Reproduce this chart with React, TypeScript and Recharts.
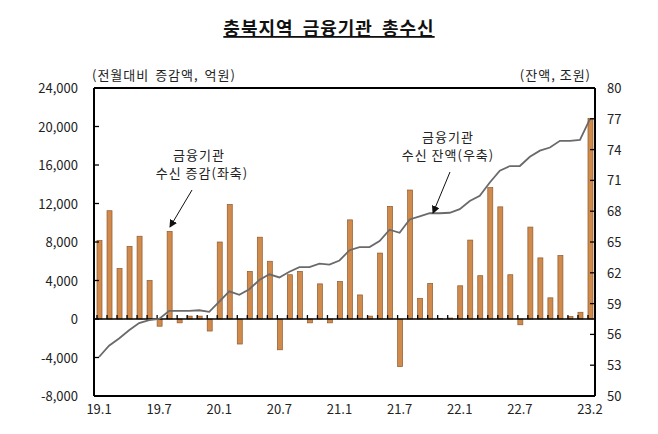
import React from "react";
import {
  ComposedChart,
  Bar,
  Line,
  XAxis,
  YAxis,
  ReferenceLine,
} from "recharts";

const months = [
  "19.1", "19.2", "19.3", "19.4", "19.5", "19.6", "19.7", "19.8", "19.9", "19.10", "19.11", "19.12",
  "20.1", "20.2", "20.3", "20.4", "20.5", "20.6", "20.7", "20.8", "20.9", "20.10", "20.11", "20.12",
  "21.1", "21.2", "21.3", "21.4", "21.5", "21.6", "21.7", "21.8", "21.9", "21.10", "21.11", "21.12",
  "22.1", "22.2", "22.3", "22.4", "22.5", "22.6", "22.7", "22.8", "22.9", "22.10", "22.11", "22.12",
  "23.1", "23.2",
];

// 전월대비 증감액 (억원)
const changes = [
  8150, 11250, 5250, 7550, 8600, 4000, -750, 9100, -400, 300, 300, -1250,
  8000, 11900, -2600, 4950, 8500, 6000, -3200, 4600, 4950, -400, 3650, -400,
  3900, 10300, 2500, 300, 6850, 11700, -4950, 13400, 2150, 3700, 50, 100,
  3450, 8200, 4500, 13650, 11650, 4600, -600, 9550, 6350, 2200, 6600, 250,
  700, 20850,
];

// 잔액 (조원)
const balances = [
  53.8, 54.9, 55.6, 56.4, 57.1, 57.4, 57.5, 58.3, 58.3, 58.3, 58.35, 58.2,
  59.2, 60.2, 59.85, 60.4, 61.3, 61.85, 61.55, 62.1, 62.55, 62.55, 62.9, 62.8,
  63.2, 64.2, 64.5, 64.5, 65.1, 66.2, 65.9, 67.2, 67.5, 67.8, 67.8, 67.85,
  68.2, 69.0, 69.5, 70.8, 71.95, 72.4, 72.4, 73.3, 73.9, 74.2, 74.85, 74.85,
  74.95, 77.0,
];

const xLabels = ["19.1", "19.7", "20.1", "20.7", "21.1", "21.7", "22.1", "22.7", "23.2"];
const leftTicks = [-8000, -4000, 0, 4000, 8000, 12000, 16000, 20000, 24000];
const rightTicks = [50, 53, 56, 59, 62, 65, 68, 71, 74, 77, 80];

const data = months.map((m, i) => ({
  month: m,
  change: changes[i],
  balance: balances[i],
}));

const FONT = "'Noto Sans CJK KR', 'Noto Sans', sans-serif";

const BarShape = (props: any) => {
  const { x, y, width, height, background } = props;
  const zeroY = y + height;
  const top = Math.min(y, zeroY);
  const h = Math.abs(height);
  const bandX =
    background && typeof background.x === "number" ? background.x : x - 2.5;
  return (
    <g>
      <rect
        x={x}
        y={top}
        width={width}
        height={h}
        fill="#D08A4C"
        stroke="#8E5A2E"
        strokeWidth={0.7}
      />
      <line x1={bandX} x2={bandX} y1={zeroY} y2={zeroY - 4} stroke="#000" strokeWidth={1.3} />
    </g>
  );
};

const LeftTick = (props: any) => {
  const { x, y, payload } = props;
  return (
    <g>
      <line x1={x + 16} x2={x + 21} y1={y} y2={y} stroke="#000" strokeWidth={1.3} />
      <text x={x} y={y} dy={5} textAnchor="end" fontSize={13} fill="#222" fontFamily={FONT}>
        {payload.value.toLocaleString("en-US")}
      </text>
    </g>
  );
};

const RightTick = (props: any) => {
  const { x, y, payload } = props;
  return (
    <g>
      <line x1={x - 12} x2={x - 17} y1={y} y2={y} stroke="#000" strokeWidth={1.3} />
      <text x={x} y={y} dy={5} textAnchor="start" fontSize={13} fill="#222" fontFamily={FONT}>
        {payload.value}
      </text>
    </g>
  );
};

const MonthTick = (props: any) => {
  const { x, y, payload } = props;
  if (!xLabels.includes(payload.value)) return null;
  return (
    <text x={x} y={y} dy={10} textAnchor="middle" fontSize={13} fill="#222" fontFamily={FONT}>
      {payload.value}
    </text>
  );
};

const noteStyle = {
  fontSize: 13,
  fill: "#222",
  fontFamily: FONT,
  letterSpacing: 1,
};

export default function App() {
  return (
    <div
      style={{
        position: "absolute",
        left: 0,
        top: 0,
        width: 658,
        height: 434,
        background: "#fff",
        fontFamily: FONT,
      }}
    >
      <ComposedChart
        width={658}
        height={434}
        data={data}
        margin={{ top: 88, right: 13, bottom: 8, left: 34 }}
      >
        <XAxis
          dataKey="month"
          interval={0}
          tickLine={false}
          axisLine={{ stroke: "#000", strokeWidth: 2 }}
          tickSize={0}
          tickMargin={8}
          height={30}
          tick={<MonthTick />}
        />
        <YAxis
          yAxisId="left"
          domain={[-8000, 24000]}
          ticks={leftTicks}
          interval={0}
          width={60}
          tickLine={false}
          tickSize={0}
          tickMargin={16}
          axisLine={{ stroke: "#000", strokeWidth: 2 }}
          tick={<LeftTick />}
        />
        <YAxis
          yAxisId="right"
          orientation="right"
          domain={[50, 80]}
          ticks={rightTicks}
          interval={0}
          width={50}
          tickLine={false}
          tickSize={0}
          tickMargin={12}
          axisLine={{ stroke: "#000", strokeWidth: 2 }}
          tick={<RightTick />}
        />
        <ReferenceLine yAxisId="left" y={24000} stroke="#000" strokeWidth={2} />
        <Bar
          yAxisId="left"
          dataKey="change"
          barSize={5}
          shape={<BarShape />}
          isAnimationActive={false}
        />
        <ReferenceLine yAxisId="left" y={0} stroke="#000" strokeWidth={1.5} />
        <Line
          yAxisId="right"
          dataKey="balance"
          type="linear"
          stroke="#6A6A6A"
          strokeWidth={1.8}
          dot={false}
          isAnimationActive={false}
        />
      </ComposedChart>

      <svg
        width={658}
        height={434}
        style={{ position: "absolute", left: 0, top: 0, pointerEvents: "none" }}
      >
        <defs>
          <marker
            id="arrowHead"
            markerWidth="8"
            markerHeight="8"
            refX="7"
            refY="4"
            orient="auto"
            markerUnits="userSpaceOnUse"
          >
            <path d="M0,0 L8,4 L0,8 Z" fill="#111" />
          </marker>
        </defs>
        <text
          x={329}
          y={35}
          textAnchor="middle"
          fontSize={18}
          fontWeight="bold"
          fill="#111"
          fontFamily={FONT}
          letterSpacing={1}
          wordSpacing={4}
          textDecoration="underline"
        >
          충북지역 금융기관 총수신
        </text>
        <text x={92} y={80} style={{ ...noteStyle, wordSpacing: 2 }}>
          (전월대비 증감액, 억원)
        </text>
        <text x={591} y={80} textAnchor="end" style={noteStyle}>
          (잔액, 조원)
        </text>

        <text x={199} y={160} textAnchor="middle" style={noteStyle}>
          금융기관
        </text>
        <text x={202} y={178} textAnchor="middle" style={noteStyle}>
          수신 증감(좌축)
        </text>
        <line x1={192} y1={190} x2={170} y2={227} stroke="#111" strokeWidth={1} markerEnd="url(#arrowHead)" />

        <text x={448} y={142} textAnchor="middle" style={noteStyle}>
          금융기관
        </text>
        <text x={448} y={160} textAnchor="middle" style={noteStyle}>
          수신 잔액(우축)
        </text>
        <line x1={450} y1={172} x2={433} y2={213} stroke="#111" strokeWidth={1} markerEnd="url(#arrowHead)" />
      </svg>
    </div>
  );
}
